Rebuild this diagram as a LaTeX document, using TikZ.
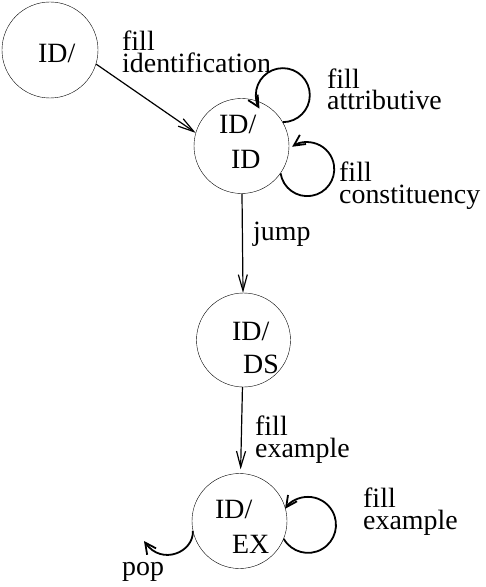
\documentclass[tikz,border=0pt]{standalone}
\usepackage{fontspec}
\setmainfont{Liberation Serif}
\usetikzlibrary{arrows.meta,positioning}

\tikzset{
  state/.style={draw, circle, thin, minimum size=95bp, inner sep=0pt},
  statetext/.style={anchor=base west, inner sep=0pt},
  lab/.style={anchor=base west, align=left, inner sep=0pt},
  edge/.style={line width=1.2bp, -{Straight Barb[length=16bp,width=9bp]}},
  loopline/.style={line width=1.8bp, -{Straight Barb[length=11bp,width=11bp]}},
}

\begin{document}
\begin{tikzpicture}[x=1bp,y=-1bp,font=\fontsize{28}{22}\selectfont]
\useasboundingbox (0,0) rectangle (486,587);

% states
\node[state, minimum size=96bp] (id) at (50,50) {};
\node[state] (idid) at (241.5,146) {};
\node[state, minimum size=94bp] (idds) at (243.5,340) {};
\node[state, minimum size=95bp] (idex) at (239.5,521) {};

% state names
\node[statetext] (tid) at (38,63) {ID/};
\node[statetext] (tidida) at (219,134) {ID/};
\node[statetext] (tididb) at (231,169) {ID};
\node[statetext] (tiddsa) at (232,340) {ID/};
\node[statetext] (tiddsb) at (243,373) {DS};
\node[statetext] (tidexa) at (215,518) {ID/};
\node[statetext] (tidexb) at (232,553) {EX};

% transitions
\draw[edge] (id.-17) -- (idid.164);
\draw[edge] (idid) -- (idds);
\draw[edge, shorten >=4bp] (idds) -- (idex);

% self loops
\draw[loopline] (idid.30) arc[start angle=90, end angle=-210, radius=27];
\draw[loopline] (idid.-35) arc[start angle=171, end angle=-124, radius=27];
\draw[loopline] (idex.-22) arc[start angle=150, end angle=-145, radius=28];

% pop
\draw[loopline] (idex.192) .. controls (194,552) and (162,566) .. (144,541);

% labels (anchored on the last line)
\node[lab] (lident) at (122,72.5) {fill\\identification};
\node[lab] (lattr) at (327,110) {fill\\attributive};
\node[lab] (lconst) at (339,203) {fill\\constituency};
\node[lab] (ljump) at (253,240) {jump};
\node[lab] (lexa) at (255,457) {fill\\example};
\node[lab] (lexb) at (363,529) {fill\\example};
\node[lab] (lpop) at (122,575) {pop};
\end{tikzpicture}
\end{document}
